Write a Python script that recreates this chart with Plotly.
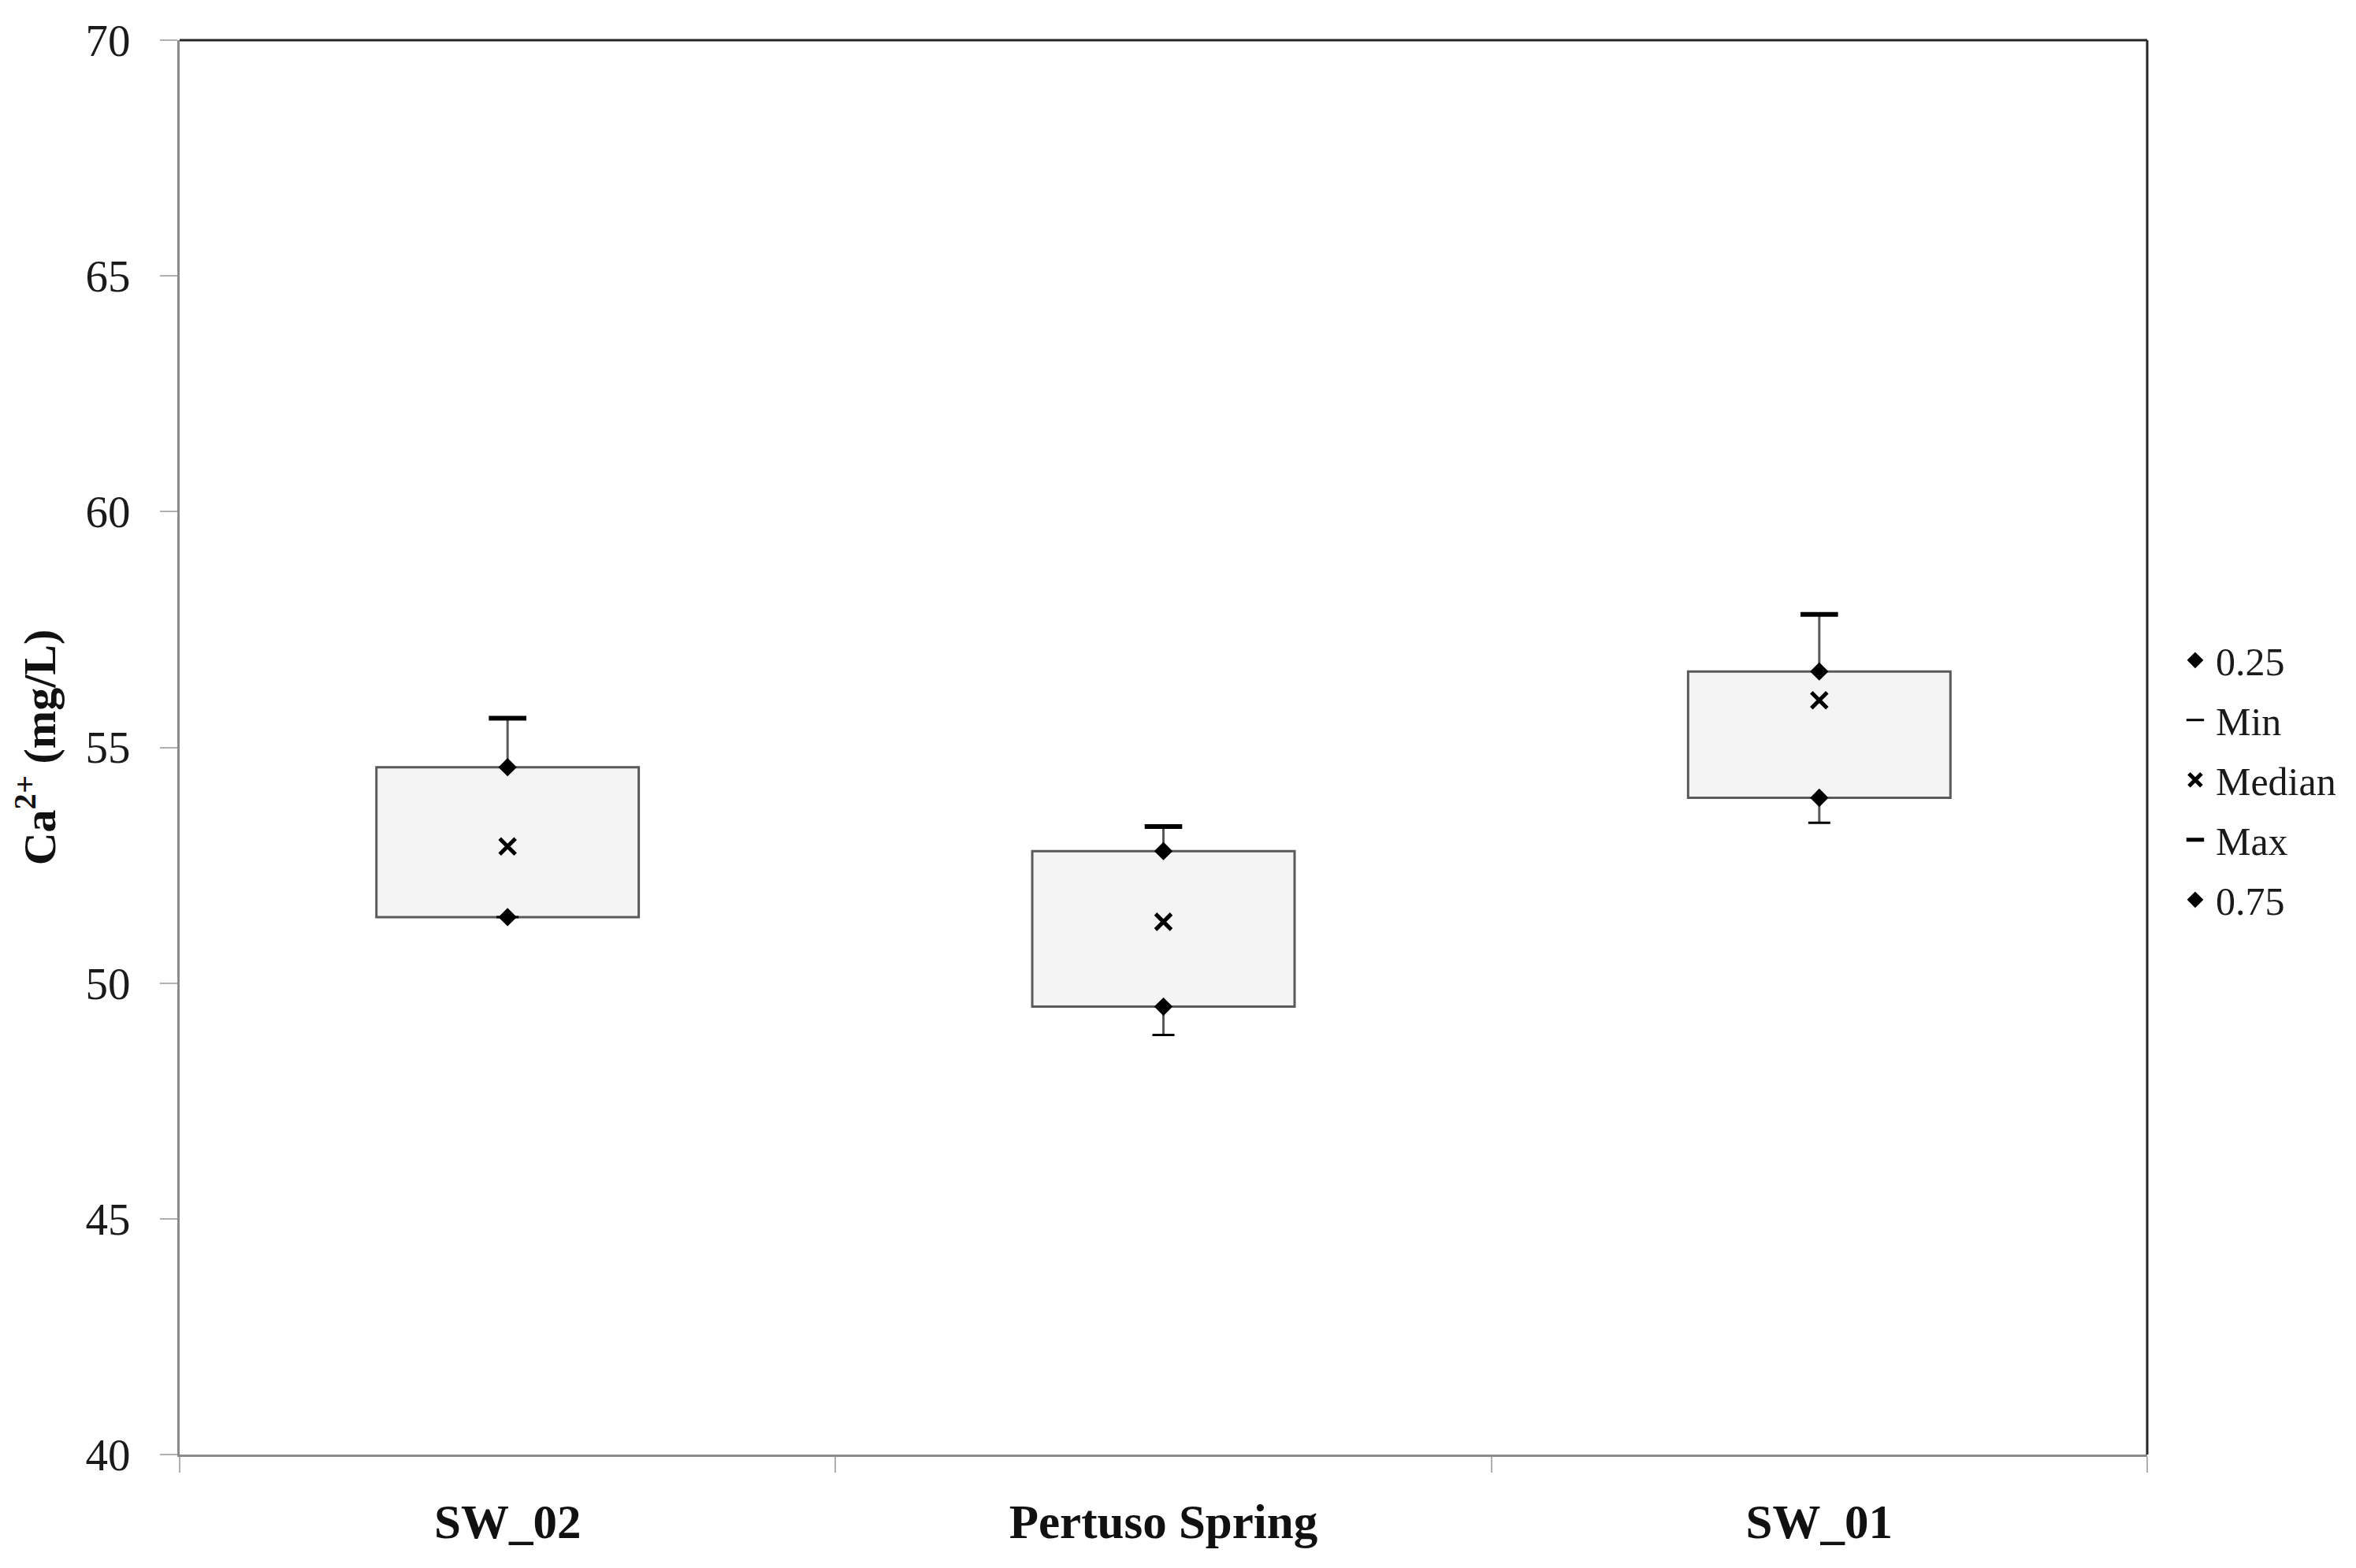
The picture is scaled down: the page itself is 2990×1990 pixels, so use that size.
import plotly.graph_objects as go

categories = ["SW_02", "Pertuso Spring", "SW_01"]
q1_vals = [51.4, 49.5, 53.93]
q3_vals = [54.58, 52.8, 56.61]
median_vals = [52.9, 51.3, 56.0]
min_vals = [51.4, 48.9, 53.4]
max_vals = [55.62, 53.32, 57.82]
y_ticks = [40, 45, 50, 55, 60, 65, 70]

FONT = "Liberation Serif"
BOX_LINE = "#5a5a5a"
AXIS_GRAY = "#8a8a8a"

fig = go.Figure()

# box bodies (Q1 -> Q3)
fig.add_trace(go.Bar(
    x=categories,
    y=[b - a for a, b in zip(q1_vals, q3_vals)],
    base=q1_vals,
    width=0.4,
    marker=dict(color="#f4f4f4", line=dict(color=BOX_LINE, width=3)),
    showlegend=False, hoverinfo="skip",
))

# whiskers
wx, wy = [], []
for c, a, b, lo, hi in zip(categories, q1_vals, q3_vals, min_vals, max_vals):
    wx += [c, c, None, c, c, None]
    wy += [b, hi, None, a, lo, None]
fig.add_trace(go.Scatter(
    x=wx, y=wy, mode="lines",
    line=dict(color=BOX_LINE, width=3),
    showlegend=False, hoverinfo="skip",
))

fig.add_trace(go.Scatter(
    x=categories, y=q1_vals, mode="markers", name="0.25", legendgroup="a",
    marker=dict(symbol="diamond", size=18, color="black"),
))
fig.add_trace(go.Scatter(
    x=categories, y=min_vals, mode="markers", name="Min", legendgroup="b",
    marker=dict(symbol="line-ew", size=20, color="black",
                line=dict(color="black", width=3)),
))
fig.add_trace(go.Scatter(
    x=categories, y=median_vals, mode="markers", name="Median", legendgroup="c",
    marker=dict(symbol="x-thin", size=20, color="black",
                line=dict(color="black", width=5)),
))
fig.add_trace(go.Scatter(
    x=categories, y=max_vals, mode="markers", name="Max", legendgroup="d",
    marker=dict(symbol="line-ew", size=34, color="black",
                line=dict(color="black", width=6)),
))
fig.add_trace(go.Scatter(
    x=categories, y=q3_vals, mode="markers", name="0.75", legendgroup="e",
    marker=dict(symbol="diamond", size=18, color="black"),
))

# top and right frame lines of the plot area
fig.add_shape(type="line", xref="paper", yref="paper", x0=0, x1=1, y0=1, y1=1,
              line=dict(color="#262626", width=3))
fig.add_shape(type="line", xref="paper", yref="paper", x0=1, x1=1, y0=0, y1=1,
              line=dict(color="#262626", width=3))

fig.update_layout(
    width=2990, height=1990,
    margin=dict(l=228, r=265, t=51, b=144, autoexpand=False),
    paper_bgcolor="white", plot_bgcolor="white",
    font=dict(family=FONT, color="#1a1a1a"),
    bargap=0.6,
    showlegend=True,
    legend=dict(
        x=1.014, xanchor="left", y=0.477, yanchor="middle",
        font=dict(family=FONT, size=50, color="#1a1a1a"),
        itemwidth=42,
        tracegroupgap=8, bgcolor="rgba(0,0,0,0)",
    ),
    xaxis=dict(
        type="category", categoryorder="array", categoryarray=categories,
        range=[-0.5, 2.5],
        showline=True, linecolor=AXIS_GRAY, linewidth=3,
        ticks="outside", tickson="boundaries", ticklen=20, tickwidth=2,
        tickcolor="#b0b0b0",
        tickfont=dict(family=FONT, size=61, color="#111111", weight="bold"),
        ticklabelstandoff=30,
        showgrid=False, zeroline=False,
    ),
    yaxis=dict(
        range=[40, 70], tickvals=y_ticks, ticktext=[str(v) for v in y_ticks],
        showline=True, linecolor=AXIS_GRAY, linewidth=3,
        ticks="outside", ticklen=22, tickwidth=2, tickcolor="#b0b0b0",
        tickfont=dict(family=FONT, size=57, color="#1a1a1a"),
        ticklabelstandoff=26,
        showgrid=False, zeroline=False,
        title=dict(text="<b>Ca<sup>2+</sup> (mg/L)</b>",
                   font=dict(family=FONT, size=58, color="#111111"),
                   standoff=20),
        automargin=False,
    ),
)

fig.write_html("out.html")
